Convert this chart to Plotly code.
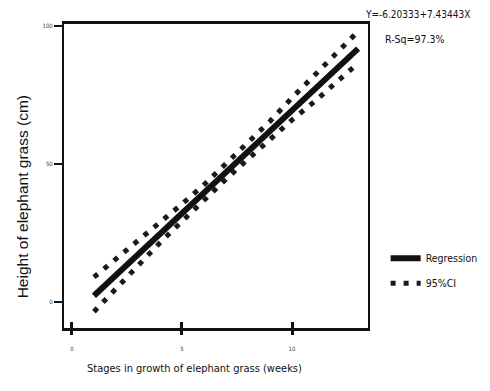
import plotly.graph_objects as go

# ---- data ----
weeks = [1, 2, 3, 4, 5, 6, 7, 8, 9, 10, 11, 12, 13]
ci_upper = [9.0, 15.5, 22.0, 29.0, 35.5, 42.5, 50.0, 57.5, 65.5, 74.0, 82.0, 90.5, 98.0]
ci_lower = [-3.5, 5.0, 13.3, 21.5, 29.2, 37.0, 44.5, 51.8, 59.0, 66.0, 72.5, 79.5, 86.5]
reg_x = [1, 13]
reg_y = [2.3, 91.8]
x_ticks = [0, 5, 10]
y_ticks = [0, 50, 100]
equation_text = "Y=-6.20333+7.43443X"
rsq_text = "R-Sq=97.3%"

FONT = "DejaVu Sans Condensed, Liberation Sans Narrow, Arial Narrow, Liberation Sans, sans-serif"

fig = go.Figure()
fig.add_trace(go.Scatter(
    x=weeks, y=ci_upper, mode="lines", name="95%CI", legendgroup="ci", legendrank=2,
    line=dict(color="#1a1a1a", width=5, dash="5px,8px"),
))
fig.add_trace(go.Scatter(
    x=weeks, y=ci_lower, mode="lines", name="95%CI", legendgroup="ci", showlegend=False,
    line=dict(color="#1a1a1a", width=5, dash="5px,8px"),
))
fig.add_trace(go.Scatter(
    x=reg_x, y=reg_y, mode="lines", name="Regression", legendgroup="reg", legendrank=1,
    xaxis="x2", line=dict(color="#111111", width=6),
))

xr = [-0.36, 13.45]
fig.update_layout(
    width=490, height=391,
    margin=dict(l=64, r=122, t=24, b=63, autoexpand=False),
    paper_bgcolor="white", plot_bgcolor="white",
    font=dict(family=FONT, color="#222"),
    xaxis=dict(
        range=xr, tickvals=x_ticks, ticks="inside", ticklen=6, tickwidth=2.5, tickcolor="#111",
        showline=True, mirror=True, linecolor="#111", linewidth=2.5,
        showgrid=False, zeroline=False, tickfont=dict(size=6, color="#444"),
        ticklabelstandoff=13, automargin=False,
    ),
    xaxis2=dict(
        range=xr, tickvals=x_ticks, ticks="outside", ticklen=6, tickwidth=2.5, tickcolor="#111",
        overlaying="x", anchor="y", side="bottom", showticklabels=False,
        showgrid=False, zeroline=False, showline=False,
    ),
    yaxis=dict(
        range=[-9.4, 100.7], tickvals=y_ticks, ticks="outside", ticklen=8, tickwidth=1.5, tickcolor="#111",
        showline=True, mirror=True, linecolor="#111", linewidth=2,
        showgrid=False, zeroline=False, tickfont=dict(size=6, color="#444"), automargin=False,
    ),
    showlegend=True,
    legend=dict(
        x=1.058, y=0.277, xanchor="left", yanchor="top",
        font=dict(family=FONT, size=10.5, color="#111"),
        itemwidth=30, traceorder="grouped", tracegroupgap=6,
        bgcolor="rgba(0,0,0,0)",
    ),
    annotations=[
        dict(text=equation_text, xref="paper", yref="paper", x=1.342, y=1.03,
             xanchor="right", yanchor="middle", showarrow=False,
             font=dict(family=FONT, size=10, color="#111")),
        dict(text=rsq_text, xref="paper", yref="paper", x=1.049, y=0.95,
             xanchor="left", yanchor="middle", showarrow=False,
             font=dict(family=FONT, size=10.5, color="#111")),
        dict(text="Height of elephant grass (cm)", xref="paper", yref="paper",
             x=-0.138, y=0.43, xanchor="center", yanchor="middle", textangle=-90,
             showarrow=False, font=dict(family="Liberation Sans, Arial, sans-serif", size=15.5, color="#111")),
        dict(text="Stages in growth of elephant grass (weeks)", xref="paper", yref="paper",
             x=0.43, y=-0.132, xanchor="center", yanchor="middle",
             showarrow=False, font=dict(family=FONT, size=11, color="#111")),
    ],
)

fig.write_html("out.html", config={"displayModeBar": False},
               post_script="document.body.style.margin='0px';")
